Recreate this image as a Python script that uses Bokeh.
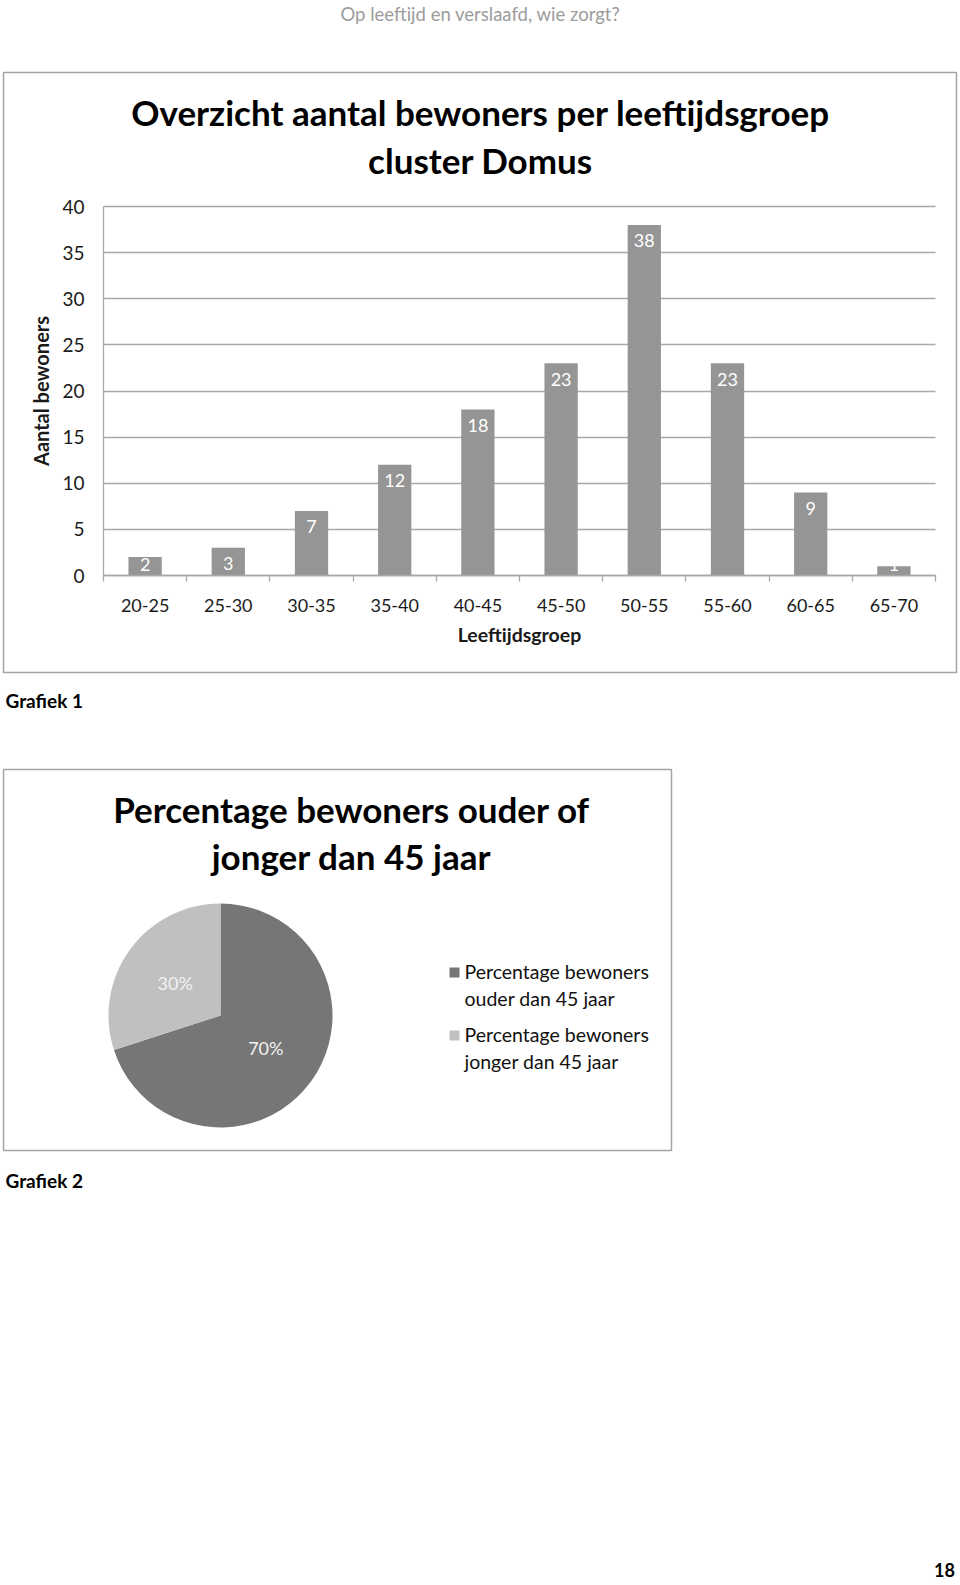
import numpy as np
from bokeh.plotting import figure
from bokeh.models import Range1d, FixedTicker, LinearAxis, Grid, ColumnDataSource
from bokeh.embed import file_html
from bokeh.resources import INLINE
from bokeh.core.properties import value

# ---------------- data ----------------
header_text = "Op leeftijd en verslaafd, wie zorgt?"
bar_title = ["Overzicht aantal bewoners per leeftijdsgroep", "cluster Domus"]
age_groups = ["20-25", "25-30", "30-35", "35-40", "40-45", "45-50", "50-55", "55-60", "60-65", "65-70"]
residents = [2, 3, 7, 12, 18, 23, 38, 23, 9, 1]
y_ticks = [0, 5, 10, 15, 20, 25, 30, 35, 40]
y_label = "Aantal bewoners"
x_label = "Leeftijdsgroep"
caption1 = "Grafiek 1"

pie_title = ["Percentage bewoners ouder of", "jonger dan 45 jaar"]
pie_labels = ["Percentage bewoners\nouder dan 45 jaar", "Percentage bewoners\njonger dan 45 jaar"]
pie_shares = [70, 30]
pie_colors = ["#767676", "#c0c0c0"]
caption2 = "Grafiek 2"
page_number = "18"

# ---------------- style / layout ----------------
FONT = "Lato"
BORDER = "#a3a3a3"
GRID = "#a8a8a8"
BAR = "#959595"
W, H = 960, 1585
FL, FR, FT, FB = 103, 935, 206, 575      # bar plot area on the page (px)


def Y(py):
    return H - py


p = figure(width=W, height=H, x_range=Range1d(0, W), y_range=Range1d(0, H),
           x_axis_type=None, y_axis_type=None, output_backend="svg", toolbar_location=None,
           min_border=0)
p.outline_line_color = None
p.background_fill_color = "white"

# bar chart ranges mapped onto its plot area
nx = len(age_groups)
ymax = y_ticks[-1]
kx = nx / (FR - FL)
ky = ymax / (FB - FT)
p.extra_x_ranges = {"bx": Range1d(0.5 - FL * kx, 0.5 + nx + (W - FR) * kx)}
p.extra_y_ranges = {"by": Range1d(0 - (H - FB) * ky, ymax + FT * ky)}

idx = np.arange(1, nx + 1)
vals = np.array(residents, dtype=float)
# value labels sit inside the top of each bar, but never below the baseline
lab_y = np.maximum(vals - 16 * ky, 11 * ky)
src = ColumnDataSource(dict(x=idx, top=vals, ly=lab_y, lab=[str(v) for v in residents]))

# grid
grid_kw = dict(dimension=1, ticker=FixedTicker(ticks=y_ticks), x_range_name="bx", y_range_name="by",
               grid_line_color=GRID, grid_line_width=1.3)
if "cross_bounds" in Grid.properties():
    p.add_layout(Grid(cross_bounds=(0.5, nx + 0.5), **grid_kw))
else:
    p.segment(x0=0.5, x1=nx + 0.5, y0=y_ticks, y1=y_ticks, line_color=GRID, line_width=1.3,
              x_range_name="bx", y_range_name="by")

p.vbar(x="x", top="top", width=0.4, source=src, fill_color=BAR, line_color=None,
       x_range_name="bx", y_range_name="by")
p.text(x="x", y="ly", text="lab", source=src, text_color="white", text_align="center",
       text_baseline="middle", text_font=value(FONT), text_font_size="18px",
       x_range_name="bx", y_range_name="by")

xa = LinearAxis(x_range_name="bx", y_range_name="by", fixed_location=0, bounds=(0.5, nx + 0.5))
xa.ticker = FixedTicker(ticks=list(idx), minor_ticks=list(np.arange(0.5, nx + 1, 1.0)))
xa.major_label_overrides = {int(i): g for i, g in zip(idx, age_groups)}
xa.major_tick_out = 0
xa.major_tick_in = 0
xa.minor_tick_out = 6
xa.minor_tick_in = 0
xa.minor_tick_line_color = GRID
xa.minor_tick_line_width = 1.3
xa.axis_line_color = GRID
xa.axis_line_width = 1.3
xa.major_label_text_font = FONT
xa.major_label_text_font_size = "18px"
xa.major_label_text_color = "#1a1a1a"
xa.major_label_standoff = 17
xa.axis_label = x_label
xa.axis_label_text_font = FONT
xa.axis_label_text_font_style = "bold"
xa.axis_label_text_font_size = "19.5px"
xa.axis_label_text_color = "#1a1a1a"
xa.axis_label_standoff = 8
p.add_layout(xa, "below")

ya = LinearAxis(x_range_name="bx", y_range_name="by", fixed_location=0.5, bounds=(0, ymax))
ya.ticker = FixedTicker(ticks=y_ticks)
ya.major_tick_out = 0
ya.major_tick_in = 0
ya.minor_tick_out = 0
ya.minor_tick_in = 0
ya.axis_line_color = GRID
ya.axis_line_width = 1.3
ya.major_label_text_font = FONT
ya.major_label_text_font_size = "19px"
ya.major_label_text_color = "#1a1a1a"
ya.major_label_standoff = 19
ya.axis_label = y_label
ya.axis_label_text_font = FONT
ya.axis_label_text_font_style = "bold"
ya.axis_label_text_font_size = "20px"
ya.axis_label_text_color = "#1a1a1a"
ya.axis_label_standoff = 6
p.add_layout(ya, "left")


def txt(t, x, py, size, bold=False, align="center", color="black"):
    p.text(x=[x], y=[Y(py)], text=[t], text_align=align, text_baseline="middle",
           text_font=value(FONT), text_font_size=size,
           text_font_style="bold" if bold else "normal", text_color=color)


# page texts
txt(header_text, 480, 13, "18.5px", color="#9c9c9c")
txt(bar_title[0], 480, 111, "35px", bold=True)
txt(bar_title[1], 480, 159, "35px", bold=True)
txt(caption1, 5, 700, "19px", bold=True, align="left")
txt(pie_title[0], 351, 808, "35px", bold=True)
txt(pie_title[1], 351, 855, "35px", bold=True)
txt(caption2, 5, 1180, "19px", bold=True, align="left")
txt(page_number, 944, 1569, "18px", bold=True)

# chart borders
p.quad(left=[3, 3], right=[956, 671], top=[Y(72), Y(769)], bottom=[Y(672), Y(1150)],
       fill_color=None, line_color=BORDER, line_width=1.5)

# pie chart
cx, cy, r = 220, Y(1015), 112
frac = np.array(pie_shares, dtype=float) / sum(pie_shares)
cum = np.concatenate([[0], np.cumsum(frac)])
starts = np.pi / 2 - 2 * np.pi * cum[:-1]
ends = np.pi / 2 - 2 * np.pi * cum[1:]
mids = (starts + ends) / 2
psrc = ColumnDataSource(dict(start=starts, end=ends, color=pie_colors,
                             lx=cx + 0.5 * r * np.cos(mids), ly=cy + 0.5 * r * np.sin(mids),
                             txt=[f"{s}%" for s in pie_shares]))
p.wedge(x=cx, y=cy, radius=r, start_angle="start", end_angle="end", direction="clock",
        fill_color="color", line_color=None, source=psrc)
p.text(x="lx", y="ly", text="txt", source=psrc, text_align="center", text_baseline="middle",
       text_color="#f2f2f2", text_font=value(FONT), text_font_size="18px")

# legend (square + two-line label per slice)
leg_x, leg_y, leg_step = 454, 972, 63
n = len(pie_labels)
lsrc = ColumnDataSource(dict(sx=[leg_x] * n, sy=[Y(leg_y + i * leg_step) for i in range(n)],
                             tx=[leg_x + 10] * n, ty=[Y(leg_y + 12.5 + i * leg_step) for i in range(n)],
                             lab=pie_labels, color=pie_colors))
p.scatter(x="sx", y="sy", marker="square", size=10, fill_color="color", line_color=None, source=lsrc)
p.text(x="tx", y="ty", text="lab", source=lsrc, text_align="left", text_baseline="middle",
       text_line_height=1.2, text_font=value(FONT), text_font_size="19.5px", text_color="#111111")

open("out.html", "w").write(file_html(p, INLINE))
